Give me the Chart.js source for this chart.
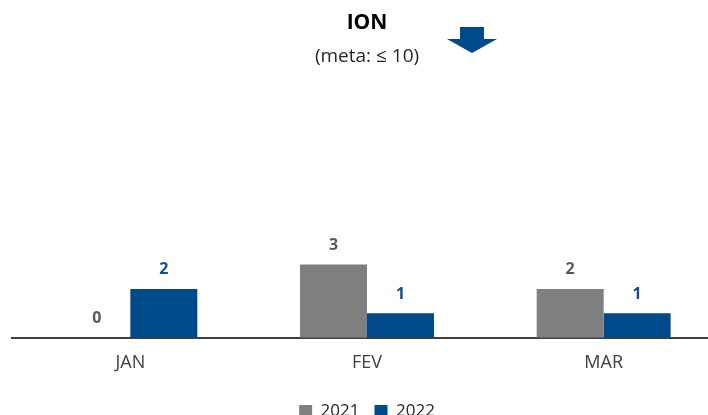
<!DOCTYPE html>
<html>
<head>
<meta charset="utf-8">
<script src="https://cdn.jsdelivr.net/npm/chart.js@4"></script>
<style>
    html, body { margin: 0; padding: 0; background: #fff; overflow: hidden; }
    #wrap { position: relative; width: 722px; height: 430px; }
</style>
</head>
<body>
<div id="wrap"><canvas id="barChart"></canvas></div>
<script>
const months = ['JAN', 'FEV', 'MAR'];
const years = ['2021', '2022'];
const values2021 = [0, 3, 2];
const values2022 = [2, 1, 1];

const grey = '#7f7f7f';
const blue = '#004a8c';
const labelColors = ['#595959', '#0b4f94'];

// value labels above each bar
const valueLabels = {
    id: 'valueLabels',
    afterDatasetsDraw(chart) {
        const ctx = chart.ctx;
        ctx.save();
        ctx.font = 'bold 16px "Open Sans"';
        ctx.textAlign = 'center';
        ctx.textBaseline = 'middle';
        chart.data.datasets.forEach((ds, i) => {
            const meta = chart.getDatasetMeta(i);
            ctx.fillStyle = labelColors[i];
            meta.data.forEach((bar, j) => {
                ctx.fillText(String(ds.data[j]), bar.x, bar.y - 19);
            });
        });
        ctx.restore();
    }
};

// the blue "lower is better" arrow next to the title
const downArrow = {
    id: 'downArrow',
    afterDraw(chart) {
        const ctx = chart.ctx;
        ctx.save();
        ctx.fillStyle = blue;
        ctx.beginPath();
        ctx.moveTo(460, 27);
        ctx.lineTo(484, 27);
        ctx.lineTo(484, 39);
        ctx.lineTo(497, 39);
        ctx.lineTo(472, 53);
        ctx.lineTo(447, 39);
        ctx.lineTo(460, 39);
        ctx.closePath();
        ctx.fill();
        ctx.restore();
    }
};

const ctx = document.getElementById('barChart').getContext('2d');
new Chart(ctx, {
    type: 'bar',
    data: {
        labels: months,
        datasets: [{
            label: years[0],
            data: values2021,
            backgroundColor: grey,
            categoryPercentage: 0.566,
            barPercentage: 1
        }, {
            label: years[1],
            data: values2022,
            backgroundColor: blue,
            categoryPercentage: 0.566,
            barPercentage: 1
        }]
    },
    options: {
        responsive: true,
        maintainAspectRatio: false,
        animation: false,
        layout: { padding: { left: 12, right: 0, top: 0, bottom: 0 } },
        scales: {
            x: {
                grid: { display: false, drawTicks: false },
                border: { display: true, color: '#404040', width: 2 },
                ticks: {
                    color: '#404040',
                    padding: 19,
                    font: { family: 'Open Sans', size: 18, lineHeight: 0.68 }
                }
            },
            y: {
                display: false,
                min: 0,
                max: 10
            }
        },
        plugins: {
            title: {
                display: true,
                text: 'ION',
                color: '#000',
                font: { family: 'Open Sans', size: 21, weight: 'bold' },
                padding: { top: 10, bottom: 8 }
            },
            subtitle: {
                display: true,
                text: '(meta: ≤ 10)',
                color: '#262626',
                font: { family: 'Open Sans', size: 19 },
                padding: { top: 2, bottom: 25.4 }
            },
            legend: {
                position: 'bottom',
                labels: {
                    boxWidth: 13,
                    boxHeight: 13,
                    padding: 15,
                    color: '#262626',
                    font: { family: 'Open Sans', size: 17 }
                }
            },
            tooltip: { enabled: false }
        }
    },
    plugins: [valueLabels, downArrow]
});
</script>
</body>
</html>
